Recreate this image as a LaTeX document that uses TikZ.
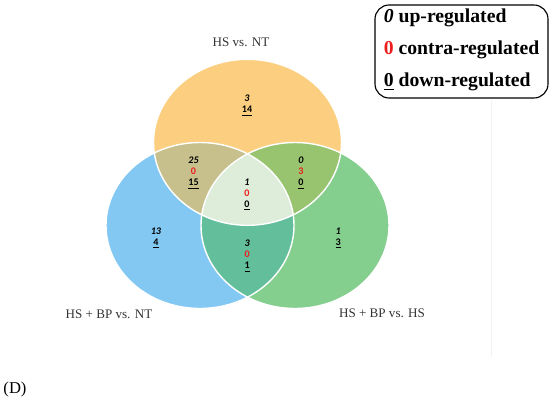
\documentclass[tikz,border=0pt]{standalone}
\usepackage{fontspec}
\setmainfont{Liberation Serif}
\newfontfamily\countfont{Carlito}
\usepackage{xcolor}

\definecolor{ntorange}{RGB}{251,207,127}
\definecolor{bpblue}{RGB}{130,200,242}
\definecolor{hsgreen}{RGB}{132,206,142}
\definecolor{orblue}{RGB}{199,192,141}
\definecolor{orgreen}{RGB}{152,196,112}
\definecolor{blgreen}{RGB}{99,190,156}
\definecolor{allthree}{RGB}{222,236,218}
\definecolor{contrared}{RGB}{235,30,30}

\newcommand{\upreg}[1]{\textit{#1}}
\newcommand{\contrareg}[1]{\textcolor{contrared}{#1}}
\newcommand{\downreg}[1]{\underline{#1}}
\def\setrx{94}
\def\setry{83}

\begin{document}
\begin{tikzpicture}[x=0.025cm, y=-0.025cm,
    count/.style={align=center, inner sep=0pt, font=\countfont\bfseries\fontsize{7.2}{7.8}\selectfont},
    setlabel/.style={inner sep=0pt, text=black!80, font=\fontsize{9.3}{11}\selectfont},
    legendtext/.style={anchor=west, inner sep=0pt, font=\bfseries\fontsize{14}{16}\selectfont},
    border/.style={white, line width=1pt}]
    \useasboundingbox (0,0) rectangle (550,401);

    % set centres
    \coordinate (cNT) at (247.5,142.3);
    \coordinate (cBP) at (200,225.5);
    \coordinate (cHS) at (295,225.5);

    % single sets
    \fill[ntorange] (cNT) ellipse [x radius=\setrx, y radius=\setry];
    \fill[bpblue] (cBP) ellipse [x radius=\setrx, y radius=\setry];
    \fill[hsgreen] (cHS) ellipse [x radius=\setrx, y radius=\setry];

    % pairwise overlaps
    \begin{scope}
        \clip (cNT) ellipse [x radius=\setrx, y radius=\setry];
        \fill[orblue] (cBP) ellipse [x radius=\setrx, y radius=\setry];
        \fill[orgreen] (cHS) ellipse [x radius=\setrx, y radius=\setry];
    \end{scope}
    \begin{scope}
        \clip (cBP) ellipse [x radius=\setrx, y radius=\setry];
        \fill[blgreen] (cHS) ellipse [x radius=\setrx, y radius=\setry];
        \clip (cHS) ellipse [x radius=\setrx, y radius=\setry];
        \fill[allthree] (cNT) ellipse [x radius=\setrx, y radius=\setry];
    \end{scope}

    % white outlines
    \draw[border] (cNT) ellipse [x radius=\setrx, y radius=\setry];
    \draw[border] (cBP) ellipse [x radius=\setrx, y radius=\setry];
    \draw[border] (cHS) ellipse [x radius=\setrx, y radius=\setry];

    % counts
    \node[count] (onlyNT) at (247,105.5) {\upreg{3}\\\downreg{14}};
    \node[count] (NTBP) at (193.5,173) {\upreg{25}\\\contrareg{0}\\\downreg{15}};
    \node[count] (NTHS) at (301,173) {\upreg{0}\\\contrareg{3}\\\downreg{0}};
    \node[count] (core) at (247,194.3) {\upreg{1}\\\contrareg{0}\\\downreg{0}};
    \node[count] (onlyBP) at (156,238) {\upreg{13}\\\downreg{4}};
    \node[count] (BPHS) at (247.3,256) {\upreg{3}\\\contrareg{0}\\\downreg{1}};
    \node[count] (onlyHS) at (338.3,238) {\upreg{1}\\\downreg{3}};

    % set names
    \node[setlabel] (labNT) at (241,42.7) {HS vs. NT};
    \node[setlabel] (labBP) at (109,314.5) {HS + BP vs. NT};
    \node[setlabel] (labHS) at (382,313.3) {HS + BP vs. HS};

    % legend
    \draw[black, line width=0.8pt, rounded corners=10] (375,5) rectangle (548,98);
    \node[legendtext] (legUp) at (383.5,18) {\upreg{0} up-regulated};
    \node[legendtext] (legContra) at (383.5,50) {\contrareg{0} contra-regulated};
    \node[legendtext] (legDown) at (383.5,82) {\downreg{0} down-regulated};

    % faint edge of the panel
    \draw[black!5, line width=0.6pt] (491,100) -- (491,357);

    \node[inner sep=0pt, font=\fontsize{11.8}{14}\selectfont] (panel) at (15,390) {(D)};
\end{tikzpicture}
\end{document}
